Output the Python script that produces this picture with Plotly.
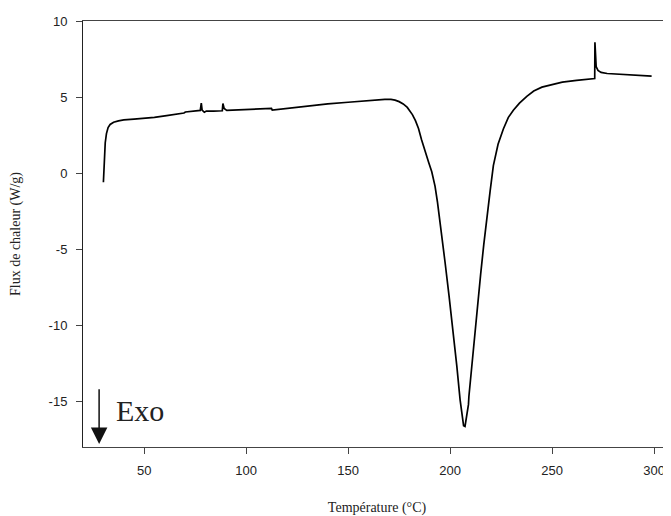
import plotly.graph_objects as go

temperature = [30.0, 30.2, 30.5, 30.9, 31.5, 32.3, 33.3, 35.0, 37.4, 40, 45, 50, 55, 61, 66, 69.5, 70.2,
               74, 77.5, 78.0, 78.4, 79.5, 80.5, 84, 88.3, 88.6, 89.2, 90.5, 95, 100, 106, 112.4, 112.8,
               120, 130, 140, 150, 158, 163, 168, 171, 173, 175, 177, 179, 181.5, 183, 184.5, 186,
               187.7, 189.5, 191, 192.3, 192.6, 193.8, 195.1, 197.5, 199.5, 201.6, 203.3, 204.9, 206,
               206.6, 207.3, 208.2, 209.0, 209.2, 210.5, 212, 213.5, 215, 216.5, 218, 219.6, 221.2,
               223.5, 226.1, 228.5, 231, 234, 237.6, 241, 245, 249, 255, 262, 270.9,
               271.0, 271.2, 271.6, 272.5, 274, 277, 283, 290, 298.8]
flux = [-0.6, 0.3, 1.2, 2.0, 2.6, 3.0, 3.2, 3.35, 3.44, 3.5, 3.55, 3.6, 3.67, 3.78, 3.88, 3.95, 4.02,
        4.08, 4.12, 4.6, 4.15, 4.0, 4.08, 4.08, 4.1, 4.58, 4.25, 4.12, 4.15, 4.18, 4.22, 4.26, 4.14,
        4.25, 4.4, 4.55, 4.66, 4.75, 4.82, 4.85, 4.85, 4.8, 4.7, 4.55, 4.32, 3.85, 3.45, 2.94, 2.2,
        1.4, 0.7, 0.09, -0.6, -0.85, -1.9, -3.2, -5.84, -8.1, -10.5, -12.7, -14.9, -16.1,
        -16.6, -16.65, -15.9, -15.2, -14.7, -12.8, -10.6, -8.7, -6.6, -4.7, -2.8, -1.2, 0.5,
        1.9, 2.9, 3.65, 4.14, 4.6, 5.05, 5.4, 5.65, 5.8, 5.98, 6.1, 6.22,
        8.6, 7.4, 7.0, 6.75, 6.62, 6.55, 6.5, 6.45, 6.38]

x_ticks = [50, 100, 150, 200, 250, 300]
y_ticks = [-15, -10, -5, 0, 5, 10]
y_tick_text = ["-15", "-10", "-5", "0", "5", "10"]

fig = go.Figure()
fig.add_trace(go.Scatter(x=temperature, y=flux, mode="lines",
                         line=dict(color="black", width=1.7), showlegend=False))

tick_font = dict(family="Liberation Sans, Arial", size=13, color="#222")
title_font = dict(family="Liberation Serif, Times New Roman", size=14, color="#222")

# the page body adds an 8px offset, so the figure is sized to fill the rest of the window
fig.update_layout(
    width=663, height=508,
    margin=dict(l=75, r=0, t=13, b=69),
    paper_bgcolor="white", plot_bgcolor="white",
    xaxis=dict(range=[20, 308.3], tickvals=x_ticks, ticks="outside", ticklen=6, tickcolor="#444",
               showline=True, linecolor="#444", linewidth=1, mirror=True, showgrid=False,
               zeroline=False, tickfont=tick_font, automargin=False, ticklabelstandoff=5,
               title=dict(text="Température (°C)", font=title_font, standoff=29)),
    yaxis=dict(range=[-18, 10], tickvals=y_ticks, ticktext=y_tick_text, ticks="outside", ticklen=6,
               tickcolor="#444", showline=True, linecolor="#222", linewidth=1, showgrid=False,
               zeroline=False, tickfont=tick_font, automargin=False, ticklabelstandoff=6,
               title=dict(text="Flux de chaleur (W/g)", font=title_font, standoff=32)),
)

fig.add_annotation(x=27.9, y=-17.8, ax=27.9, ay=-14.1, xref="x", yref="y", axref="x", ayref="y",
                   text="", showarrow=True, arrowhead=2, arrowsize=2.2, arrowwidth=1.5,
                   arrowcolor="#111")
fig.add_annotation(x=35.3, y=-15.6, xref="x", yref="y", text="Exo", showarrow=False,
                   xanchor="left", yanchor="middle",
                   font=dict(family="Liberation Serif, Times New Roman", size=30, color="#222"))

fig.write_html("out.html")
